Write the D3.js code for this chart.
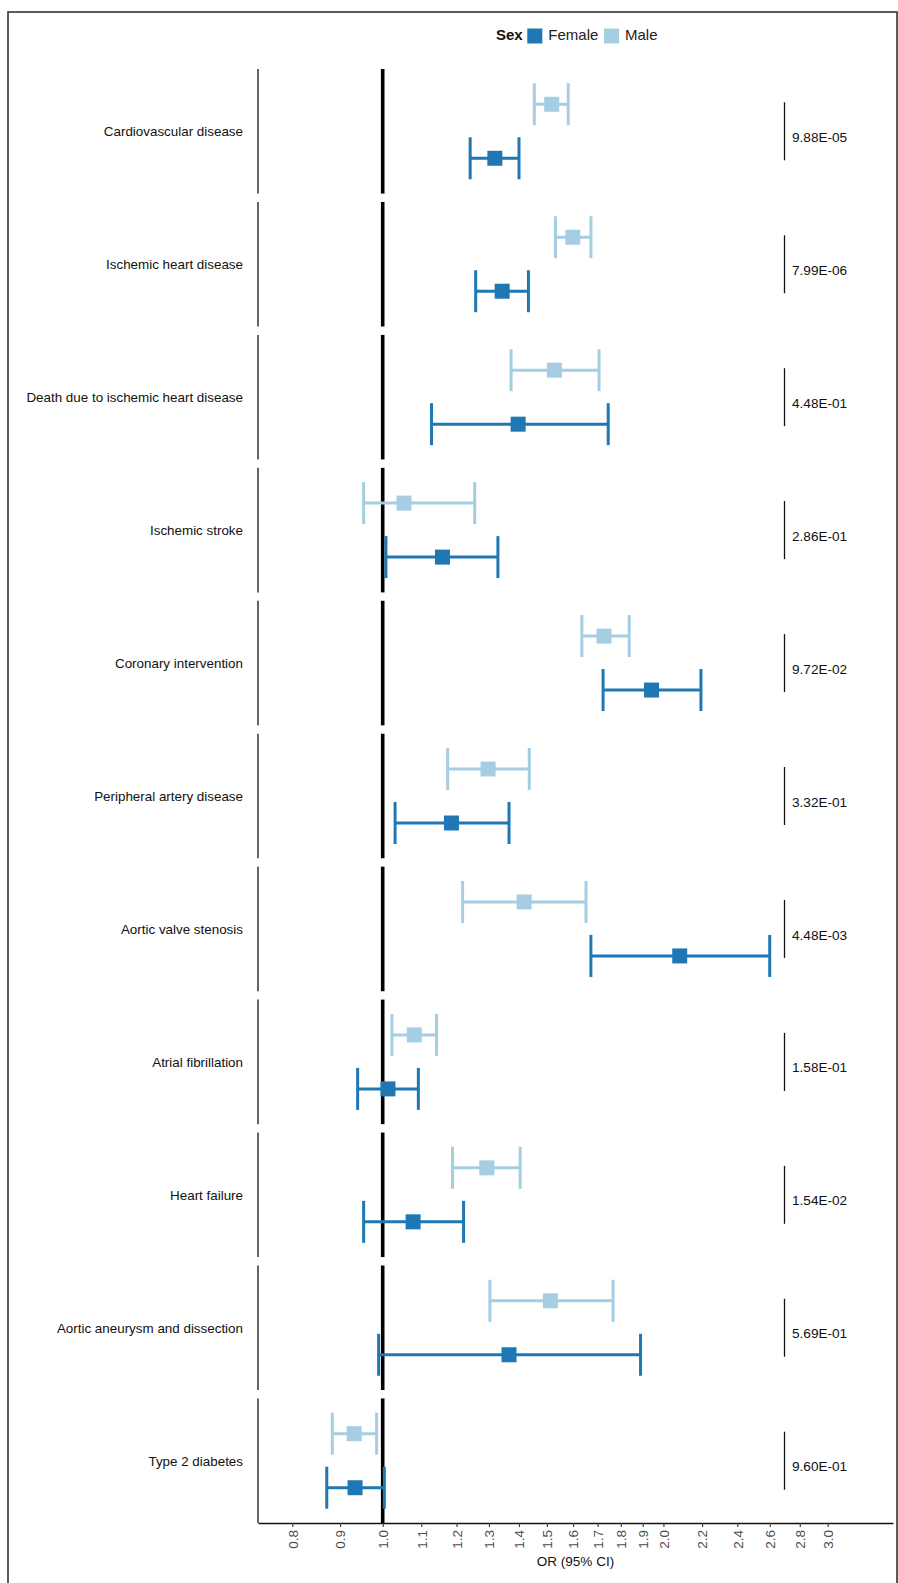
<!DOCTYPE html>
<html>
<head>
<meta charset="utf-8">
<script src="https://cdn.jsdelivr.net/npm/d3@7/dist/d3.min.js"></script>
<style>
  html, body { margin: 0; padding: 0; background: #fff; }
  svg text { font-family: "Liberation Sans", Arial, Helvetica, sans-serif; }
</style>
</head>
<body>
<script>
// ---- Data ----
const outcomes = [
  "Cardiovascular disease",
  "Ischemic heart disease",
  "Death due to ischemic heart disease",
  "Ischemic stroke",
  "Coronary intervention",
  "Peripheral artery disease",
  "Aortic valve stenosis",
  "Atrial fibrillation",
  "Heart failure",
  "Aortic aneurysm and dissection",
  "Type 2 diabetes"
];
const maleOR    = [1.518, 1.599, 1.528, 1.054, 1.727, 1.297, 1.418, 1.081, 1.293, 1.513, 0.932];
const maleLow   = [1.454, 1.532, 1.373, 0.954, 1.635, 1.174, 1.218, 1.023, 1.188, 1.303, 0.883];
const maleHigh  = [1.581, 1.672, 1.706, 1.255, 1.838, 1.436, 1.652, 1.142, 1.404, 1.766, 0.985];
const femaleOR   = [1.319, 1.343, 1.397, 1.159, 1.942, 1.185, 2.082, 1.013, 1.078, 1.366, 0.934];
const femaleLow  = [1.241, 1.258, 1.128, 1.008, 1.723, 1.031, 1.672, 0.940, 0.954, 0.990, 0.871];
const femaleHigh = [1.400, 1.433, 1.745, 1.329, 2.194, 1.366, 2.600, 1.092, 1.221, 1.890, 1.004];
const pValues = ["9.88E-05","7.99E-06","4.48E-01","2.86E-01","9.72E-02","3.32E-01","4.48E-03","1.58E-01","1.54E-02","5.69E-01","9.60E-01"];
const tickValues = [0.8, 0.9, 1.0, 1.1, 1.2, 1.3, 1.4, 1.5, 1.6, 1.7, 1.8, 1.9, 2.0, 2.2, 2.4, 2.6, 2.8, 3.0];
const sexes = ["Female", "Male"];
const sexColors = ["#1f78b4", "#a6cee3"];

// ---- Build records ----
const records = [];
outcomes.forEach((o, i) => {
  records.push({outcome: o, sex: "Male", or: maleOR[i], lo: maleLow[i], hi: maleHigh[i]});
  records.push({outcome: o, sex: "Female", or: femaleOR[i], lo: femaleLow[i], hi: femaleHigh[i]});
});

const W = 898, H = 1583;
const svg = d3.select("body").append("svg").attr("width", W).attr("height", H);

// frame
svg.append("rect").attr("x", 8).attr("y", 12).attr("width", 889).attr("height", 1590)
  .attr("fill", "none").attr("stroke", "#333").attr("stroke-width", 1.6);

const plotLeft = 258, plotRight = 893, plotTop = 69, plotBottom = 1523;

const x = d3.scaleLog().domain([0.735, 3.525]).range([plotLeft, plotRight]);
const yRow = d3.scaleBand().domain(outcomes).range([plotTop, plotBottom]).paddingInner(0.063).paddingOuter(0);
const ySex = d3.scalePoint().domain(["Male", "Female"]).range([-27, 27]);
const color = d3.scaleOrdinal().domain(sexes).range(sexColors);

const bw = yRow.bandwidth();

// panels
const rows = svg.append("g").selectAll("g.row").data(outcomes).join("g")
  .attr("class", "row")
  .attr("transform", d => `translate(0,${yRow(d)})`);

rows.append("line").attr("x1", plotLeft).attr("x2", plotLeft).attr("y1", 0).attr("y2", bw)
  .attr("stroke", "#111").attr("stroke-width", 1.3);
rows.append("line").attr("x1", x(1)).attr("x2", x(1)).attr("y1", 0).attr("y2", bw)
  .attr("stroke", "#000").attr("stroke-width", 3.6);

rows.append("text").attr("x", 243).attr("y", bw / 2 + 1.5)
  .attr("text-anchor", "end").attr("dominant-baseline", "middle")
  .attr("font-size", "13.4px").attr("fill", "#111").text(d => d);

// p-value column
rows.append("line").attr("x1", 784.5).attr("x2", 784.5).attr("y1", bw / 2 - 29).attr("y2", bw / 2 + 29)
  .attr("stroke", "#111").attr("stroke-width", 1.3);
rows.append("text").attr("x", 792).attr("y", bw / 2 + 7)
  .attr("dominant-baseline", "middle").attr("font-size", "13.6px").attr("fill", "#111")
  .text((d, i) => pValues[i]);

// error bars & points
const marks = svg.append("g").selectAll("g.mark").data(records).join("g")
  .attr("class", "mark")
  .attr("transform", d => `translate(0,${yRow(d.outcome) + bw / 2 + ySex(d.sex)})`);

marks.append("line").attr("x1", d => x(d.lo)).attr("x2", d => x(d.hi)).attr("y1", 0).attr("y2", 0)
  .attr("stroke", d => color(d.sex)).attr("stroke-width", 3);
marks.append("line").attr("x1", d => x(d.lo)).attr("x2", d => x(d.lo)).attr("y1", -21).attr("y2", 21)
  .attr("stroke", d => color(d.sex)).attr("stroke-width", 3);
marks.append("line").attr("x1", d => x(d.hi)).attr("x2", d => x(d.hi)).attr("y1", -21).attr("y2", 21)
  .attr("stroke", d => color(d.sex)).attr("stroke-width", 3);
marks.append("rect").attr("x", d => x(d.or) - 7.5).attr("y", -7.5).attr("width", 15).attr("height", 15)
  .attr("fill", d => color(d.sex));

// x axis
const axis = d3.axisBottom(x).tickValues(tickValues).tickFormat(d3.format(".1f")).tickSize(4).tickSizeOuter(0);
const gx = svg.append("g").attr("transform", `translate(0,${plotBottom})`).call(axis);
gx.select(".domain").attr("stroke", "#111").attr("stroke-width", 1.3);
gx.selectAll(".tick line").attr("stroke", "#333").attr("stroke-width", 1.1);
gx.selectAll(".tick text")
  .attr("font-size", "13.5px").attr("fill", "#4d4d4d")
  .attr("text-anchor", "end")
  .attr("transform", "rotate(-90)")
  .attr("x", -7).attr("y", 0).attr("dy", "0.35em");

svg.append("text").attr("x", (plotLeft + plotRight) / 2).attr("y", 1562)
  .attr("text-anchor", "middle").attr("dominant-baseline", "middle")
  .attr("font-size", "13.5px").attr("fill", "#111").text("OR (95% CI)");

// legend
const lg = svg.append("g").attr("transform", "translate(496,36)");
lg.append("text").attr("x", 0).attr("y", 0).attr("dominant-baseline", "middle")
  .attr("font-size", "15px").attr("font-weight", "bold").attr("fill", "#111").text("Sex");
const legendX = [31.3, 108];
sexes.forEach((s, i) => {
  lg.append("rect").attr("x", legendX[i]).attr("y", -7.5).attr("width", 15).attr("height", 15).attr("fill", color(s));
  lg.append("text").attr("x", legendX[i] + 21).attr("y", 0).attr("dominant-baseline", "middle")
    .attr("font-size", "15px").attr("fill", "#222").text(s);
});
</script>
</body>
</html>
